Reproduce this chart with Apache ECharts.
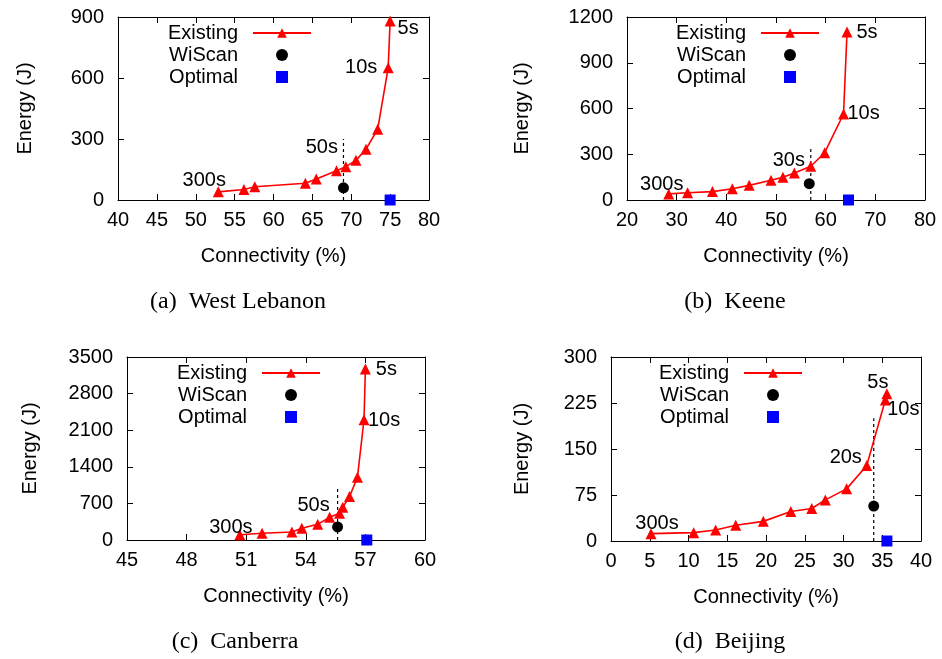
<!DOCTYPE html>
<html>
<head>
<meta charset="utf-8">
<script src="https://cdn.jsdelivr.net/npm/echarts@6/dist/echarts.min.js"></script>
<style>
  html, body { margin: 0; padding: 0; background: #fff; }
  #chart { width: 942px; height: 659px; }
</style>
</head>
<body>
<div id="chart"></div>
<script>
// (a) West Lebanon
var westConn   = [52.9, 56.2, 57.6, 64.1, 65.5, 68.1, 69.3, 70.6, 71.9, 73.4, 74.75, 75.0];
var westEnergy = [40, 52, 65, 82, 103, 144, 164, 195, 250, 348, 650, 880];
var westTags   = ['300s', '', '', '', '', '', '50s', '', '', '', '10s', '5s'];
var westWiScan = [69.0, 60];
var westOptimal = [75.0, 0];
var westGuide  = [[69.0, 0], [69.0, 300]];

// (b) Keene
var keeneConn   = [28.4, 32.2, 37.2, 41.2, 44.6, 49.0, 51.4, 53.7, 57.0, 59.8, 63.6, 64.3];
var keeneEnergy = [40, 48, 55, 74, 96, 129, 149, 177, 221, 310, 564, 1102];
var keeneTags   = ['300s', '', '', '', '', '', '', '', '30s', '', '10s', '5s'];
var keeneWiScan = [56.7, 107];
var keeneOptimal = [64.6, 0];
var keeneGuide  = [[57.0, 0], [57.0, 350]];

// (c) Canberra
var canConn   = [50.68, 51.8, 53.3, 53.8, 54.6, 55.2, 55.7, 55.86, 56.2, 56.6, 56.93, 57.0];
var canEnergy = [100, 128, 153, 224, 300, 435, 511, 626, 830, 1201, 2300, 3270];
var canTags   = ['300s', '', '', '', '', '', '50s', '', '', '', '10s', '5s'];
var canWiScan = [55.6, 250];
var canOptimal = [57.07, 0];
var canGuide  = [[55.6, 0], [55.6, 1000]];

// (d) Beijing
var bjConn   = [5.16, 10.67, 13.5, 16.1, 19.65, 23.2, 25.9, 27.65, 30.4, 33.0, 35.4, 35.6];
var bjEnergy = [12, 13.6, 18, 25.6, 32, 48, 53, 67, 85, 123, 230, 240];
var bjTags   = ['300s', '', '', '', '', '', '', '', '', '20s', '10s', '5s'];
var bjWiScan = [33.9, 57];
var bjOptimal = [35.6, 0];
var bjGuide  = [[33.9, 0], [33.9, 200]];

var captions = ['(a)  West Lebanon', '(b)  Keene', '(c)  Canberra', '(d)  Beijing'];
var xRanges = [[40, 80, 5], [20, 80, 10], [45, 60, 3], [0, 40, 5]];
var yRanges = [[0, 900, 300], [0, 1200, 300], [0, 3500, 700], [0, 300, 75]];

// layout / styling (not data)
var grids = [
  {left: 118, top: 17, width: 311, height: 183},
  {left: 627, top: 17, width: 298, height: 183},
  {left: 127, top: 357, width: 298, height: 183},
  {left: 611, top: 357, width: 310, height: 184}
];
var yNameGap = [83, 95, 87, 79];
var legendRight = [630, 122, 621, 139];
var legendTop = [22, 22, 362, 362];
var captionPos = [[238, 290], [735, 290], [235, 630], [730, 630]];
// label offsets from their point, per panel
var tagOffsets = [
  {'300s': [-14, -11], '50s': [-24, -19], '10s': [-27, 0], '5s': [18, 7]},
  {'300s': [-7, -9], '30s': [-22, -6], '10s': [20, -1], '5s': [20, 1]},
  {'300s': [-9, -7], '50s': [-26, -8], '10s': [20, 1], '5s': [21, 0]},
  {'300s': [6, -10], '20s': [-21, -8], '10s': [18, 10], '5s': [-9, -11]}
];

var panels = [
  [westConn, westEnergy, westTags, westWiScan, westOptimal, westGuide],
  [keeneConn, keeneEnergy, keeneTags, keeneWiScan, keeneOptimal, keeneGuide],
  [canConn, canEnergy, canTags, canWiScan, canOptimal, canGuide],
  [bjConn, bjEnergy, bjTags, bjWiScan, bjOptimal, bjGuide]
];

var SANS = 'Liberation Sans';
var SERIF = 'Liberation Serif';
var FS = 20;
var SQUARE = 'path://M0,0L10,0L10,10L0,10Z';

var option = {
  animation: false,
  backgroundColor: '#fff',
  grid: [], xAxis: [], yAxis: [], series: [], legend: [], title: []
};

function plain(v) { return String(v); }

function axisBase(range) {
  return {
    min: range[0], max: range[1], interval: range[2],
    axisLine: {show: true, onZero: false, lineStyle: {color: '#000', width: 1}},
    axisTick: {show: true, inside: true, length: 6, lineStyle: {color: '#000'}},
    splitLine: {show: false}
  };
}

panels.forEach(function (p, i) {
  var g = grids[i];
  option.grid.push({left: g.left, top: g.top, width: g.width, height: g.height});

  var xb = axisBase(xRanges[i]);
  xb.type = 'value'; xb.gridIndex = i; xb.position = 'bottom';
  xb.axisLabel = {color: '#000', fontSize: FS, fontFamily: SANS, margin: 10, formatter: plain};
  xb.name = 'Connectivity (%)';
  xb.nameLocation = 'middle';
  xb.nameGap = 46;
  xb.nameTextStyle = {color: '#000', fontSize: FS, fontFamily: SANS};
  option.xAxis.push(xb);

  var yb = axisBase(yRanges[i]);
  yb.type = 'value'; yb.gridIndex = i; yb.position = 'left';
  yb.axisLabel = {color: '#000', fontSize: FS, fontFamily: SANS, margin: 14, formatter: plain};
  yb.name = 'Energy (J)';
  yb.nameLocation = 'middle';
  yb.nameGap = yNameGap[i];
  yb.nameTextStyle = {color: '#000', fontSize: FS, fontFamily: SANS};
  option.yAxis.push(yb);
});

// mirrored top / right axes
panels.forEach(function (p, i) {
  var xt = axisBase(xRanges[i]);
  xt.type = 'value'; xt.gridIndex = i; xt.position = 'top';
  xt.axisLabel = {show: false};
  option.xAxis.push(xt);
  var yr = axisBase(yRanges[i]);
  yr.type = 'value'; yr.gridIndex = i; yr.position = 'right';
  yr.axisLabel = {show: false};
  option.yAxis.push(yr);
});

panels.forEach(function (p, i) {
  var conn = p[0], energy = p[1], tags = p[2];
  var pts = conn.map(function (x, k) {
    var item = {value: [x, energy[k]]};
    if (tags[k]) {
      item.label = {
        show: true, formatter: tags[k], position: 'inside',
        offset: tagOffsets[i][tags[k]],
        color: '#000', fontSize: FS, fontFamily: SANS
      };
    }
    return item;
  });

  option.series.push({
    name: 'guide', type: 'line', xAxisIndex: i, yAxisIndex: i,
    data: p[5], symbol: 'none', silent: true, z: 1,
    lineStyle: {color: '#000', width: 1.2, type: [3, 3]}
  });
  option.series.push({
    name: 'Existing', type: 'line', xAxisIndex: i, yAxisIndex: i,
    data: pts, symbol: 'triangle', symbolSize: 11, clip: false, z: 3,
    itemStyle: {color: '#ff0000', opacity: 1},
    lineStyle: {color: '#ff0000', width: 1.6},
    label: {show: false}
  });
  option.series.push({
    name: 'WiScan', type: 'scatter', xAxisIndex: i, yAxisIndex: i,
    data: [p[3]], symbol: 'circle', symbolSize: 11, clip: false, z: 4,
    itemStyle: {color: '#000', opacity: 1}
  });
  option.series.push({
    name: 'Optimal', type: 'scatter', xAxisIndex: i, yAxisIndex: i,
    data: [p[4]], symbol: 'rect', symbolSize: 11, clip: false, z: 4,
    itemStyle: {color: '#0000ff', opacity: 1}
  });

  option.legend.push({
    orient: 'vertical', align: 'right',
    right: legendRight[i], top: legendTop[i],
    padding: 0, itemGap: 0, itemWidth: 58, itemHeight: 12,
    selectedMode: false, symbolKeepAspect: true,
    textStyle: {color: '#000', fontSize: FS, fontFamily: SANS, lineHeight: 22, padding: [0, 10, 0, 0]},
    data: [
      {name: 'Existing'},
      {name: 'WiScan', icon: 'circle', itemStyle: {opacity: 1}},
      {name: 'Optimal', icon: SQUARE, itemStyle: {opacity: 1}}
    ]
  });

  option.title.push({
    text: captions[i],
    left: captionPos[i][0], top: captionPos[i][1], textAlign: 'center',
    padding: 0,
    textStyle: {color: '#000', fontSize: 24, fontWeight: 'normal', fontFamily: SERIF}
  });
});

var chart = echarts.init(document.getElementById('chart'), null, {renderer: 'canvas'});
chart.setOption(option);
</script>
</body>
</html>
